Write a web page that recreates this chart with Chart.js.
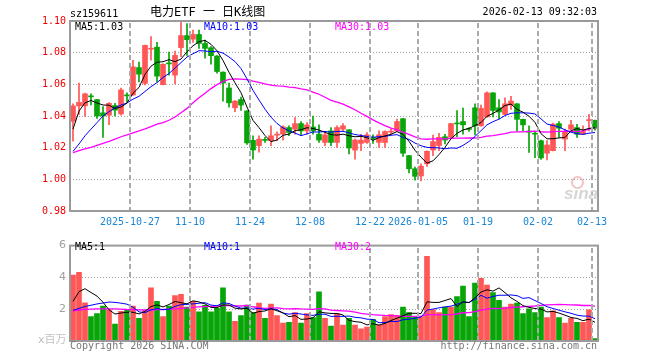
<!DOCTYPE html>
<html><head><meta charset="utf-8">
<script src="https://cdn.jsdelivr.net/npm/chart.js@4.4.1/dist/chart.umd.min.js"></script>
<style>
html,body{margin:0;padding:0;background:#fff;}
#wrap{position:relative;width:660px;height:360px;overflow:hidden;font-family:"DejaVu Sans Mono",monospace;font-size:10px;background:#fff;}
canvas{position:absolute;left:0;}
#c1{top:0;}
#c2{top:235px;}
.t{position:absolute;white-space:nowrap;line-height:12px;}
.vg{position:absolute;width:2px;background:repeating-linear-gradient(to bottom,#aaaaaa 0px,#aaaaaa 5px,rgba(255,255,255,0) 5px,rgba(255,255,255,0) 8px);}
#eye{position:absolute;left:571px;top:176px;width:9px;height:9px;border:2px solid #f2c4c4;border-radius:50%;}
</style></head>
<body><div id="wrap">
<canvas id="c1" width="660" height="235"></canvas>
<canvas id="c2" width="660" height="125"></canvas>
<div class="t" style="left:70px;top:8px;color:#000;">sz159611</div>
<div class="t" style="left:150px;top:5px;font-size:12px;line-height:14px;color:#000;font-family:'DejaVu Sans Mono','Noto Sans CJK SC',monospace;">电力ETF 一 日K线图</div>
<div class="t" style="right:63px;top:6px;color:#000;">2026-02-13 09:32:03</div>
<div class="t" id="pm5" style="left:75px;top:21px;color:#000;"></div>
<div class="t" id="pm10" style="left:204px;top:21px;color:#0000ff;"></div>
<div class="t" id="pm30" style="left:335px;top:21px;color:#ff00ff;"></div>
<div class="t" id="vm5" style="left:75px;top:241px;color:#000;"></div>
<div class="t" id="vm10" style="left:204px;top:241px;color:#0000ff;"></div>
<div class="t" id="vm30" style="left:335px;top:241px;color:#ff00ff;"></div>
<div class="t" style="left:38px;top:334px;color:#c0c0c0;font-size:11px;font-family:'DejaVu Sans','Noto Sans CJK SC',sans-serif;">x百万</div>
<div class="t" style="left:70px;top:340px;color:#777;">Copyright 2026 SINA.COM</div>
<div class="t" style="right:63px;top:340px;color:#777;">http://finance.sina.com.cn</div>
<div id="eye"></div>
<div class="t" style="left:564px;top:185px;color:#d6d6d6;font:italic bold 17px 'Liberation Sans',sans-serif;line-height:18px;">sina</div>
</div>
<script>
const dates = ['2025-10-13','2025-10-14','2025-10-15','2025-10-16','2025-10-17','2025-10-20','2025-10-21','2025-10-22','2025-10-23','2025-10-24',
'2025-10-27','2025-10-28','2025-10-29','2025-10-30','2025-10-31','2025-11-03','2025-11-04','2025-11-05','2025-11-06','2025-11-07',
'2025-11-10','2025-11-11','2025-11-12','2025-11-13','2025-11-14','2025-11-17','2025-11-18','2025-11-19','2025-11-20','2025-11-21',
'2025-11-24','2025-11-25','2025-11-26','2025-11-27','2025-11-28','2025-12-01','2025-12-02','2025-12-03','2025-12-04','2025-12-05',
'2025-12-08','2025-12-09','2025-12-10','2025-12-11','2025-12-12','2025-12-15','2025-12-16','2025-12-17','2025-12-18','2025-12-19',
'2025-12-22','2025-12-23','2025-12-24','2025-12-25','2025-12-26','2025-12-29','2025-12-30','2025-12-31','2026-01-05','2026-01-06',
'2026-01-07','2026-01-08','2026-01-09','2026-01-12','2026-01-13','2026-01-14','2026-01-15','2026-01-16','2026-01-19','2026-01-20',
'2026-01-21','2026-01-22','2026-01-23','2026-01-26','2026-01-27','2026-01-28','2026-01-29','2026-01-30','2026-02-02','2026-02-03',
'2026-02-04','2026-02-05','2026-02-06','2026-02-09','2026-02-10','2026-02-11','2026-02-12','2026-02-13'];

const open = [1.0366,1.0464,1.0464,1.0525,1.0504,1.0420,1.0405,1.0466,1.0413,1.0531,
1.0533,1.0706,1.0606,1.0822,1.0835,1.0598,1.0733,1.0658,1.0832,1.0908,
1.0885,1.0915,1.0858,1.0831,1.0779,1.0677,1.0577,1.0452,1.0504,1.0432,
1.0246,1.0213,1.0250,1.0244,1.0279,1.0285,1.0327,1.0317,1.0352,1.0306,
1.0331,1.0285,1.0233,1.0306,1.0233,1.0317,1.0313,1.0185,1.0227,1.0233,
1.0262,1.0233,1.0233,1.0298,1.0306,1.0383,1.0150,1.0067,1.0021,1.0098,
1.0185,1.0213,1.0269,1.0265,1.0354,1.0365,1.0320,1.0452,1.0338,1.0394,
1.0546,1.0452,1.0410,1.0469,1.0477,1.0379,1.0302,1.0290,1.0244,1.0165,
1.0181,1.0352,1.0254,1.0317,1.0327,1.0285,1.0371,1.0373];
const high = [1.0477,1.0608,1.0545,1.0540,1.0506,1.0460,1.0485,1.0480,1.0577,1.0547,
1.0752,1.0741,1.0848,1.0902,1.0866,1.0730,1.0804,1.0810,1.0998,1.0983,
1.0942,1.0942,1.0879,1.0838,1.0781,1.0679,1.0608,1.0498,1.0519,1.0435,
1.0275,1.0275,1.0265,1.0338,1.0300,1.0338,1.0338,1.0390,1.0365,1.0358,
1.0400,1.0344,1.0296,1.0327,1.0338,1.0352,1.0315,1.0254,1.0285,1.0296,
1.0281,1.0306,1.0306,1.0317,1.0380,1.0385,1.0152,1.0077,1.0098,1.0180,
1.0280,1.0290,1.0285,1.0354,1.0435,1.0450,1.0327,1.0477,1.0469,1.0552,
1.0548,1.0504,1.0515,1.0525,1.0479,1.0381,1.0338,1.0300,1.0248,1.0244,
1.0356,1.0365,1.0317,1.0373,1.0348,1.0338,1.0410,1.0375];
const low = [1.0241,1.0410,1.0398,1.0470,1.0385,1.0265,1.0345,1.0400,1.0405,1.0491,
1.0530,1.0616,1.0596,1.0752,1.0616,1.0596,1.0658,1.0602,1.0775,1.0783,
1.0865,1.0827,1.0765,1.0727,1.0670,1.0494,1.0456,1.0427,1.0435,1.0220,
1.0128,1.0171,1.0233,1.0213,1.0244,1.0248,1.0275,1.0285,1.0275,1.0285,
1.0285,1.0233,1.0213,1.0213,1.0202,1.0306,1.0160,1.0127,1.0181,1.0227,
1.0227,1.0202,1.0202,1.0285,1.0304,1.0144,1.0040,0.9994,0.9990,1.0081,
1.0150,1.0181,1.0223,1.0263,1.0269,1.0285,1.0302,1.0281,1.0335,1.0392,
1.0394,1.0381,1.0408,1.0442,1.0306,1.0306,1.0170,1.0137,1.0125,1.0123,
1.0179,1.0265,1.0181,1.0310,1.0265,1.0283,1.0306,1.0310];
const close = [1.0464,1.0486,1.0540,1.0521,1.0400,1.0400,1.0480,1.0437,1.0565,1.0527,
1.0710,1.0664,1.0846,1.0826,1.0652,1.0727,1.0729,1.0783,1.0908,1.0882,
1.0915,1.0858,1.0827,1.0781,1.0681,1.0608,1.0483,1.0494,1.0469,1.0230,
1.0185,1.0254,1.0246,1.0275,1.0283,1.0331,1.0296,1.0352,1.0306,1.0344,
1.0306,1.0248,1.0281,1.0233,1.0327,1.0338,1.0198,1.0248,1.0248,1.0281,
1.0258,1.0281,1.0302,1.0302,1.0365,1.0165,1.0067,1.0019,1.0083,1.0177,
1.0238,1.0265,1.0248,1.0352,1.0350,1.0344,1.0315,1.0338,1.0448,1.0546,
1.0435,1.0425,1.0477,1.0494,1.0379,1.0344,1.0298,1.0285,1.0135,1.0217,
1.0348,1.0323,1.0302,1.0344,1.0285,1.0302,1.0375,1.0323];
const volume = [4.14,4.32,2.40,1.54,1.72,2.20,1.96,1.06,1.86,1.96,
2.20,1.42,1.90,3.34,2.50,1.54,2.20,2.86,2.94,2.14,
2.50,1.84,2.24,1.84,2.06,3.34,1.84,1.24,1.60,2.26,
1.78,2.38,1.42,2.32,1.60,1.12,1.18,1.78,1.12,1.72,
1.48,3.10,1.42,0.94,1.72,1.00,1.42,1.00,0.76,0.88,
1.36,1.00,1.54,1.66,1.60,2.14,1.78,1.54,1.54,5.32,
1.96,1.78,2.14,2.14,2.80,3.46,1.54,3.64,3.94,3.52,
3.04,2.56,2.14,2.32,2.38,1.72,2.02,1.78,2.14,1.48,
1.90,1.48,1.12,1.42,1.18,1.18,1.96,0.16];

// Moving-average values before enough in-window history exists
const ma5Lead = [1.0317,1.0431,1.0483,1.0498];
const ma10Lead = [1.0177,1.0223,1.0275,1.0317,1.0358,1.0400,1.0427,1.0452,1.0469];
const ma30Lead = [1.0169,1.0181,1.0192,1.0202,1.0215,1.0227,1.0240,1.0254,1.0269,1.0281,
1.0294,1.0306,1.0319,1.0333,1.0348,1.0358,1.0373,1.0394,1.0421,1.0448,
1.0483,1.0515,1.0544,1.0573,1.0598,1.0619,1.0631,1.0635,1.0633];
const volMa5Lead = [2.49,3.10,3.29,3.05];
const volMa10Lead = [1.93,2.05,2.17,2.25,2.33,2.39,2.45,2.43,2.38];
const volMa30Lead = [1.90,1.95,1.99,2.01,2.02,2.02,2.02,2.02,2.00,1.98,
1.97,1.96,1.95,1.95,1.97,1.98,2.00,2.02,2.05,2.08,
2.12,2.14,2.16,2.18,2.20,2.22,2.22,2.21,2.20];

const tickDates = ['2025-10-27','2025-11-10','2025-11-24','2025-12-08','2025-12-22','2026-01-05','2026-01-19','2026-02-02','2026-02-13'];
const tickTexts = ['2025-10-27','11-10','11-24','12-08','12-22','2026-01-05','01-19','02-02','02-13'];
const priceTicks = [0.98,1.00,1.02,1.04,1.06,1.08,1.10];
const volTicks = [0,2,4,6];
const maTexts = {p5:'MA5:1.03',p10:'MA10:1.03',p30:'MA30:1.03',v5:'MA5:1',v10:'MA10:1',v30:'MA30:2'};

const UP = '#ff5656', DOWN = '#07a507', GRIDC = '#a0a0a0', VGRIDC = '#aaaaaa', FRAME = '#9a9a9a';
const MONO = '"DejaVu Sans Mono", monospace';

function movingAvg(values, n, lead) {
  return values.map((v, i) => {
    if (i < n - 1) return lead[i];
    let s = 0;
    for (let k = i - n + 1; k <= i; k++) s += values[k];
    return s / n;
  });
}
const colors = close.map((c, i) => c >= open[i] ? UP : DOWN);
const tickIdx = tickDates.map(d => dates.indexOf(d));
const labelMap = {};
tickIdx.forEach((idx, k) => { labelMap[idx] = tickTexts[k]; });

document.getElementById('pm5').textContent = maTexts.p5;
document.getElementById('pm10').textContent = maTexts.p10;
document.getElementById('pm30').textContent = maTexts.p30;
document.getElementById('vm5').textContent = maTexts.v5;
document.getElementById('vm10').textContent = maTexts.v10;
document.getElementById('vm30').textContent = maTexts.v30;

function gridXs(chart) {
  const xs = chart.scales.x;
  const step = xs.getPixelForTick(1) - xs.getPixelForTick(0);
  return tickIdx.map(idx => Math.round(xs.getPixelForTick(idx) - step / 2));
}

// dashed vertical grid lines at the labelled dates (HTML layer behind the transparent canvas)
function addVGrid(chart, canvasTop) {
  const a = chart.chartArea;
  const wrap = document.getElementById('wrap');
  for (const x of gridXs(chart)) {
    const d = document.createElement('div');
    d.className = 'vg';
    d.style.left = (x - 1) + 'px';
    d.style.top = (canvasTop + Math.round(a.top) + 2) + 'px';
    d.style.height = Math.round(a.bottom - a.top - 2) + 'px';
    wrap.insertBefore(d, wrap.firstChild);
  }
}

const framePlugin = {
  id: 'frame',
  afterDraw(chart) {
    const a = chart.chartArea, ctx = chart.ctx;
    ctx.save();
    ctx.fillStyle = VGRIDC;
    for (const x of gridXs(chart)) {
      for (let y = Math.round(a.top) + 2; y < a.bottom; y += 8) {
        ctx.fillRect(x - 1, y, 2, Math.min(5, a.bottom - y));
      }
    }
    ctx.strokeStyle = FRAME; ctx.lineWidth = 2;
    ctx.strokeRect(a.left, a.top, a.right - a.left, a.bottom - a.top);
    ctx.restore();
  }
};

function xScale(showLabels, height) {
  return {
    type: 'category', offset: true,
    grid: { display: false, drawTicks: false },
    border: { display: false },
    ticks: { display: showLabels, autoSkip: false, maxRotation: 0, padding: 5, labelOffset: -3,
      color: '#1a86d6', font: { family: MONO, size: 10 },
      callback: (v, i) => labelMap[i] || '' },
    afterFit: s => { s.height = height; }
  };
}
function yGridColor(ticks) {
  return c => (c.tick && c.index > 0 && c.index < ticks.length - 1) ? GRIDC : 'rgba(0,0,0,0)';
}

const priceChart = new Chart(document.getElementById('c1'), {
  type: 'bar',
  data: {
    labels: dates,
    datasets: [
      { type: 'line', data: movingAvg(close, 5, ma5Lead), borderColor: '#000', borderWidth: 1, pointRadius: 0, tension: 0 },
      { type: 'line', data: movingAvg(close, 10, ma10Lead), borderColor: '#0000ff', borderWidth: 1, pointRadius: 0, tension: 0 },
      { type: 'line', data: movingAvg(close, 30, ma30Lead), borderColor: '#ff00ff', borderWidth: 1.3, pointRadius: 0, tension: 0 },
      { data: open.map((o, i) => [o, close[i]]), backgroundColor: colors, barThickness: 5, minBarLength: 1, grouped: false, borderWidth: 0 },
      { data: low.map((l, i) => [l, high[i]]), backgroundColor: colors, barThickness: 1, grouped: false, borderWidth: 0 }
    ]
  },
  options: {
    responsive: false, animation: false, events: [],
    layout: { padding: { left: 0, right: 62, top: 21, bottom: 0 } },
    plugins: { legend: { display: false }, tooltip: { enabled: false } },
    scales: {
      x: xScale(true, 24),
      y: {
        min: priceTicks[0], max: priceTicks[priceTicks.length - 1],
        afterBuildTicks: s => { s.ticks = priceTicks.map(v => ({ value: v })); },
        grid: { drawTicks: false, color: yGridColor(priceTicks) },
        border: { display: false, dash: [1, 2] },
        ticks: { padding: 4, color: '#ee0000', font: { family: MONO, size: 10 }, callback: v => Number(v).toFixed(2) },
        afterFit: s => { s.width = 70; }
      }
    }
  },
  plugins: [framePlugin]
});

const volChart = new Chart(document.getElementById('c2'), {
  type: 'bar',
  data: {
    labels: dates,
    datasets: [
      { type: 'line', data: movingAvg(volume, 5, volMa5Lead), borderColor: '#000', borderWidth: 1, pointRadius: 0, tension: 0 },
      { type: 'line', data: movingAvg(volume, 10, volMa10Lead), borderColor: '#0000ff', borderWidth: 1, pointRadius: 0, tension: 0 },
      { type: 'line', data: movingAvg(volume, 30, volMa30Lead), borderColor: '#ff00ff', borderWidth: 1.3, pointRadius: 0, tension: 0 },
      { data: volume, backgroundColor: colors, barThickness: 5, grouped: false, borderWidth: 0 }
    ]
  },
  options: {
    responsive: false, animation: false, events: [],
    layout: { padding: { left: 0, right: 62, top: 5, bottom: 0 } },
    plugins: { legend: { display: false }, tooltip: { enabled: false } },
    scales: {
      x: xScale(false, 19),
      y: {
        min: volTicks[0], max: volTicks[volTicks.length - 1],
        afterBuildTicks: s => { s.ticks = volTicks.map(v => ({ value: v })); },
        grid: { drawTicks: false, color: yGridColor(volTicks) },
        border: { display: false, dash: [1, 2] },
        ticks: { padding: 4, color: '#a0a0a0', font: { family: '"DejaVu Sans", sans-serif', size: 11 }, callback: v => v === 0 ? '' : String(v) },
        afterFit: s => { s.width = 70; }
      }
    }
  },
  plugins: [framePlugin]
});

addVGrid(priceChart, 0);
addVGrid(volChart, 235);
</script>
</body></html>
